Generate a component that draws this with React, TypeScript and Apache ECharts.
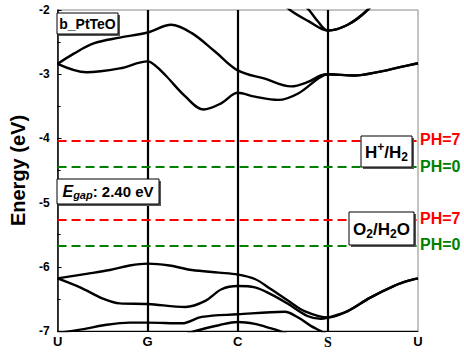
import React, { useEffect, useRef } from 'react';
import * as echarts from 'echarts';

// High-symmetry path
const kLabels = ['U', 'G', 'C', 'S', 'U'];
const kPositions = [0, 1, 2, 3, 4];

// Energy axis (eV)
const yMin = -7;
const yMax = -2;
const yStep = 1;

// Band energies [k, E]
const cbLower: [number, number][] = [
  [0, -2.84], [0.32, -2.97], [0.69, -2.91], [1.0, -2.8], [1.08, -2.86], [1.2, -3.02],
  [1.42, -3.35], [1.62, -3.55], [1.82, -3.45], [2.0, -3.29], [2.19, -3.35], [2.45, -3.4],
  [2.67, -3.3], [2.89, -3.07], [3.0, -3.0], [3.29, -3.02], [3.58, -2.96], [3.8, -2.89], [4, -2.83],
];
const cbUpper: [number, number][] = [
  [0, -2.84], [0.18, -2.68], [0.4, -2.52], [0.69, -2.43], [1.0, -2.35], [1.26, -2.23],
  [1.49, -2.36], [1.75, -2.65], [2.0, -2.94], [2.3, -3.07], [2.59, -3.19], [2.78, -3.12],
  [2.92, -3.02], [3.0, -3.0], [3.29, -3.02], [3.58, -2.96], [3.8, -2.89], [4, -2.83],
];
const cbHighA: [number, number][] = [
  [2.3, -1.65], [2.58, -2.0], [2.78, -2.17], [3.0, -2.32], [3.22, -2.23], [3.44, -2.0], [3.7, -1.6],
];
const cbHighB: [number, number][] = [
  [2.62, -1.75], [2.79, -2.0], [2.89, -2.18], [3.0, -2.32], [3.22, -2.23], [3.44, -2.0], [3.7, -1.6],
];
const vbTop: [number, number][] = [
  [0, -6.18], [0.32, -6.11], [0.58, -6.05], [0.8, -5.98], [1.0, -5.95], [1.24, -5.98],
  [1.49, -6.05], [1.79, -6.09], [2.0, -6.12], [2.19, -6.19], [2.37, -6.35], [2.56, -6.53],
  [2.74, -6.69], [3.0, -6.79], [3.22, -6.69], [3.47, -6.48], [3.73, -6.3], [3.91, -6.21], [4, -6.18],
];
const vbSecond: [number, number][] = [
  [0, -6.18], [0.25, -6.32], [0.51, -6.5], [0.69, -6.57], [1.0, -6.58], [1.42, -6.625],
  [1.64, -6.53], [1.82, -6.35], [2.0, -6.3], [2.19, -6.32], [2.37, -6.43], [2.56, -6.58],
  [2.78, -6.77], [2.92, -6.81], [3.0, -6.79], [3.22, -6.69], [3.47, -6.48], [3.73, -6.3],
  [3.91, -6.21], [4, -6.18],
];
const vbThird: [number, number][] = [
  [0, -7.03], [0.29, -6.97], [0.51, -6.91], [0.8, -6.87], [1.0, -6.87], [1.38, -6.88],
  [1.6, -6.78], [2.0, -6.74], [2.52, -6.7], [2.67, -6.79], [2.81, -6.92], [2.92, -7.0], [3.05, -7.1],
];
const vbFourth: [number, number][] = [
  [1.3, -7.12], [1.53, -7.0], [1.79, -6.91], [2.0, -6.86], [2.19, -6.89], [2.37, -6.96],
  [2.46, -7.0], [2.65, -7.1],
];

const bands = [cbLower, cbUpper, cbHighA, cbHighB, vbTop, vbSecond, vbThird, vbFourth];

// Redox potentials (eV)
const redoxLevels = [-4.03, -4.44, -5.26, -5.67];
const redoxColors = ['#ff0000', '#008000', '#ff0000', '#008000'];
const redoxLabels = ['PH=7', 'PH=0', 'PH=7', 'PH=0'];

const FONT = 'Arial, "Liberation Sans", sans-serif';
const SERIF = '"Times New Roman", "Liberation Serif", serif';

function boxGroup(x: number, y: number, w: number, h: number, textEl: any) {
  return {
    type: 'group',
    z: 100,
    children: [
      { type: 'rect', shape: { x: x + 2, y: y + 2, width: w, height: h }, style: { fill: '#555' }, z: 100 },
      { type: 'rect', shape: { x, y, width: w, height: h }, style: { fill: '#fff', stroke: '#000', lineWidth: 1 }, z: 101 },
      { ...textEl, z: 102 },
    ],
  };
}

function centerText(cx: number, cy: number, text: string, rich: any, base: any) {
  return {
    type: 'text',
    x: cx,
    y: cy,
    style: {
      text,
      rich,
      ...base,
      align: 'center',
      verticalAlign: 'middle',
      textAlign: 'center',
      textVerticalAlign: 'middle',
    },
  };
}

export default function App() {
  const ref = useRef<HTMLDivElement>(null);
  useEffect(() => {
    if (!ref.current) return;
    const chart = echarts.init(ref.current, null, { renderer: 'svg' });

    const bandSeries: any[] = bands.map((b) => ({
      type: 'line',
      data: b,
      smooth: 0.35,
      showSymbol: false,
      symbol: 'none',
      clip: true,
      z: 3,
      lineStyle: { color: '#000', width: 2.4 },
      silent: true,
    }));

    const vLines = {
      type: 'line',
      data: [],
      z: 2,
      silent: true,
      markLine: {
        silent: true,
        symbol: ['none', 'none'],
        label: { show: false },
        lineStyle: { color: '#000', width: 2.2, type: 'solid' },
        data: kPositions.slice(1, 4).map((k) => ({ xAxis: k })),
      },
    };

    const hLines = {
      type: 'line',
      data: [],
      z: 6,
      silent: true,
      markLine: {
        silent: true,
        symbol: ['none', 'none'],
        label: { show: false },
        data: redoxLevels.map((v, i) => ({
          yAxis: v,
          lineStyle: { color: redoxColors[i], width: 2.2, type: [9, 5] },
        })),
      },
    };

    const phTexts = redoxLevels.map((v, i) => ({
      type: 'text',
      z: 100,
      x: 420,
      y: 10 + (yMax - v) * 64,
      style: {
        text: redoxLabels[i],
        fill: redoxColors[i],
        font: `bold 16px ${FONT}`,
        align: 'left',
        verticalAlign: 'middle',
        textAlign: 'left',
        textVerticalAlign: 'middle',
      },
    }));

    const mainBase = { fill: '#000', fontFamily: FONT, fontWeight: 'bold' };

    const graphics = [
      boxGroup(57, 13, 61, 21,
        centerText(87.5, 24, 'b_PtTeO', undefined, { ...mainBase, fontSize: 14 })),
      boxGroup(57, 179, 102, 25,
        centerText(108, 191.5, '{e|E}{g|gap}{m|: 2.40 eV}', {
          e: { fontSize: 16, fontStyle: 'italic', fontWeight: 'bold', fontFamily: FONT, lineHeight: 18, verticalAlign: 'middle' },
          g: { fontSize: 11, fontStyle: 'italic', fontWeight: 'bold', fontFamily: FONT, lineHeight: 11, verticalAlign: 'bottom' },
          m: { fontSize: 15, fontWeight: 'bold', fontFamily: FONT, lineHeight: 18, verticalAlign: 'middle' },
        }, mainBase)),
      boxGroup(361, 136, 51, 31,
        centerText(386.5, 152, '{m|H}{p|+}{m|/H}{s|2}', {
          m: { fontSize: 17, fontWeight: 'bold', fontFamily: FONT, lineHeight: 22, verticalAlign: 'middle' },
          p: { fontSize: 12, fontWeight: 'bold', fontFamily: FONT, lineHeight: 12, verticalAlign: 'top' },
          s: { fontSize: 12, fontWeight: 'bold', fontFamily: FONT, lineHeight: 12, verticalAlign: 'bottom' },
        }, mainBase)),
      boxGroup(349, 212, 65, 33,
        centerText(381.5, 229, '{m|O}{s|2}{m|/H}{s|2}{m|O}', {
          m: { fontSize: 17, fontWeight: 'bold', fontFamily: FONT, lineHeight: 22, verticalAlign: 'middle' },
          s: { fontSize: 12, fontWeight: 'bold', fontFamily: FONT, lineHeight: 12, verticalAlign: 'bottom' },
        }, mainBase)),
      ...phTexts,
    ];

    chart.setOption({
      animation: false,
      backgroundColor: '#fff',
      grid: {
        left: 54,
        right: 46,
        top: 10,
        bottom: 23,
        show: true,
        borderColor: '#888',
        borderWidth: 1,
        backgroundColor: 'transparent',
      },
      xAxis: {
        type: 'value',
        min: kPositions[0],
        max: kPositions[kPositions.length - 1],
        interval: 1,
        axisLine: { show: true, onZero: false, lineStyle: { color: '#000', width: 1 } },
        axisTick: { show: false },
        splitLine: { show: false },
        axisLabel: {
          showMinLabel: true,
          showMaxLabel: true,
          margin: 4,
          formatter: (v: number) => {
            const idx = kPositions.indexOf(v);
            const t = kLabels[idx] ?? '';
            return t === 'S' ? `{s|${t}}` : `{b|${t}}`;
          },
          rich: {
            b: { fontFamily: FONT, fontWeight: 'bold', fontSize: 13, color: '#000' },
            s: { fontFamily: SERIF, fontWeight: 'bold', fontSize: 14, color: '#000' },
          },
        },
      },
      yAxis: {
        type: 'value',
        min: yMin,
        max: yMax,
        interval: yStep,
        name: 'Energy (eV)',
        nameLocation: 'middle',
        nameGap: 26,
        nameRotate: 90,
        nameTextStyle: { fontFamily: FONT, fontWeight: 'bold', fontSize: 20, color: '#000' },
        axisLine: { show: true, onZero: false, lineStyle: { color: '#000', width: 1.5 } },
        axisTick: { show: true, inside: true, length: 4, lineStyle: { color: '#000', width: 1 } },
        minorTick: { show: true, splitNumber: 2, length: 3, lineStyle: { color: '#000', width: 1 } },
        splitLine: { show: false },
        axisLabel: { fontFamily: FONT, fontWeight: 'bold', fontSize: 12, color: '#000', margin: 8 },
      },
      series: [vLines, ...bandSeries, hLines],
      graphic: graphics,
    });
    return () => chart.dispose();
  }, []);
  return (
    <div
      ref={ref}
      style={{ position: 'fixed', left: 0, top: 0, width: 464, height: 354, background: '#fff' }}
    />
  );
}
